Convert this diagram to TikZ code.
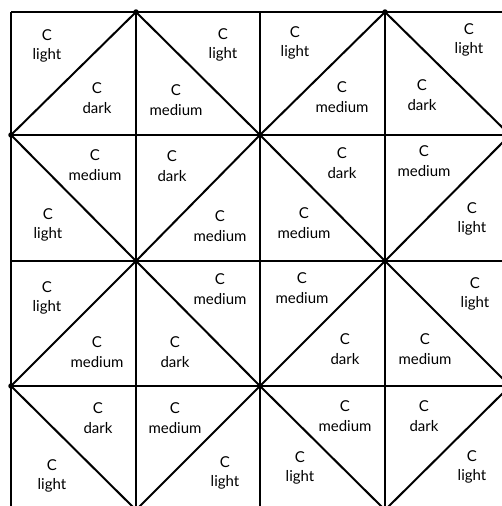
\documentclass[tikz,border=0pt]{standalone}
\usepackage{fontspec}
\setmainfont{Lato}
\begin{document}
\begin{tikzpicture}[x=1pt,y=-1pt,
  gridline/.style={line width=2.4pt},
  diagline/.style={line width=2pt},
  vdot/.style={circle,fill=black,inner sep=0pt,minimum size=5.5pt},
  lbl/.style={align=center,inner sep=0pt,font=\fontsize{15}{19.5}\selectfont}]
\useasboundingbox (0,0) rectangle (502,506);
\begin{scope}
\clip (0,0) rectangle (502,506);
% grid coordinates
\foreach \i/\x in {0/11,1/136,2/260,3/385,4/510}{
  \foreach \j/\y in {0/12,1/135,2/261,3/386,4/510}{
    \coordinate (p\i\j) at (\x,\y);
  }
}
% grid lines
\foreach \i in {0,1,2,3}{ \draw[gridline] (p\i0) -- (p\i4); }
\foreach \j in {0,1,2,3}{ \draw[gridline] (p0\j) -- (p4\j); }
% diagonals (diamonds)
\draw[diagline] (p01) -- (p10) -- (p21) -- (p12) -- cycle;
\draw[diagline] (p21) -- (p30) -- (p41) -- (p32) -- cycle;
\draw[diagline] (p03) -- (p12) -- (p23) -- (p14) -- cycle;
\draw[diagline] (p23) -- (p32) -- (p43) -- (p34) -- cycle;
% vertex dots
\foreach \c in {p10,p30,p01,p21,p41,p12,p32,p03,p23,p43,p14,p34}{
  \node[vdot] (d\c) at (\c) {};
}
\end{scope}
% labels row 0
\node[lbl] (l00a) at (47,46) {C\\light};
\node[lbl] (l00b) at (97,98) {C\\dark};
\node[lbl] (l01a) at (223,45) {C\\light};
\node[lbl] (l01b) at (176,100) {C\\medium};
\node[lbl] (l02a) at (295,43) {C\\light};
\node[lbl] (l02b) at (342,97) {C\\medium};
\node[lbl] (l03a) at (469,40) {C\\light};
\node[lbl] (l03b) at (422,95) {C\\dark};
% row 1
\node[lbl] (l10a) at (95,165) {C\\medium};
\node[lbl] (l10b) at (48,225) {C\\light};
\node[lbl] (l11a) at (172,166) {C\\dark};
\node[lbl] (l11b) at (220,226) {C\\medium};
\node[lbl] (l12a) at (342,163) {C\\dark};
\node[lbl] (l12b) at (304,223) {C\\medium};
\node[lbl] (l13a) at (424,161) {C\\medium};
\node[lbl] (l13b) at (472,219) {C\\light};
% row 2
\node[lbl] (l20a) at (47,298) {C\\light};
\node[lbl] (l20b) at (97,352) {C\\medium};
\node[lbl] (l21a) at (220,289) {C\\medium};
\node[lbl] (l21b) at (175,352) {C\\dark};
\node[lbl] (l22a) at (302,288) {C\\medium};
\node[lbl] (l22b) at (345,349) {C\\dark};
\node[lbl] (l23a) at (475,294) {C\\light};
\node[lbl] (l23b) at (425,349) {C\\medium};
% row 3
\node[lbl] (l30a) at (98,418) {C\\dark};
\node[lbl] (l30b) at (52,476) {C\\light};
\node[lbl] (l31a) at (175,418) {C\\medium};
\node[lbl] (l31b) at (225,473) {C\\light};
\node[lbl] (l32a) at (345,416) {C\\medium};
\node[lbl] (l32b) at (300,468) {C\\light};
\node[lbl] (l33a) at (424,416) {C\\dark};
\node[lbl] (l33b) at (472,467) {C\\light};
\end{tikzpicture}
\end{document}
